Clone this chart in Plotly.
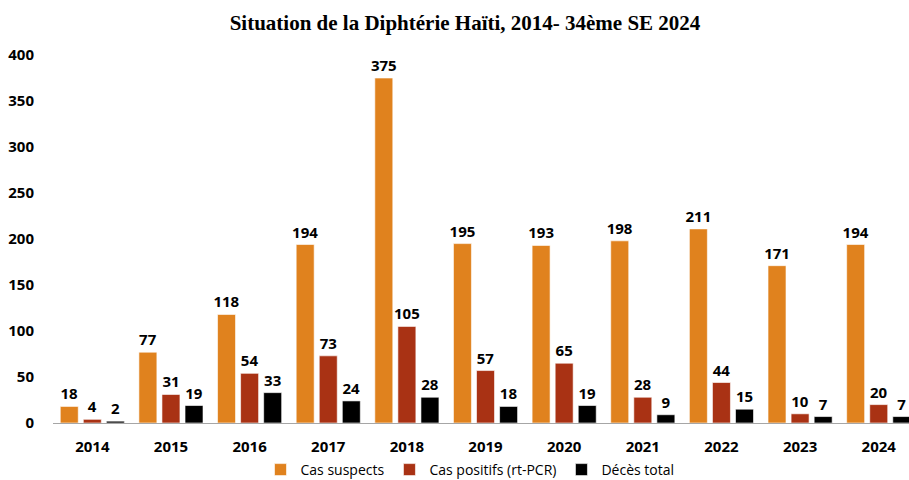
import plotly.graph_objects as go

years = ["2014", "2015", "2016", "2017", "2018", "2019", "2020", "2021", "2022", "2023", "2024"]
cas_suspects = [18, 77, 118, 194, 375, 195, 193, 198, 211, 171, 194]
cas_positifs = [4, 31, 54, 73, 105, 57, 65, 28, 44, 10, 20]
deces_total = [2, 19, 33, 24, 28, 18, 19, 9, 15, 7, 7]

series = [
    ("Cas suspects", cas_suspects, "#E0821E"),
    ("Cas positifs (rt-PCR)", cas_positifs, "#A93214"),
    ("Décès total", deces_total, "#000000"),
]

fig = go.Figure()
for name, vals, color in series:
    fig.add_trace(go.Bar(
        x=years, y=vals, name=name,
        marker=dict(color=color, line=dict(color="rgba(255,255,255,0.6)", width=1)),
        text=vals, textposition="outside", cliponaxis=False, constraintext="none",
        textfont=dict(family="Open Sans", size=15, color="#000000"),
        texttemplate="<b>%{text}</b>",
    ))

W, H = 909, 480
L, R, T, B = 53, 0, 55, 57
fig.update_layout(
    width=W, height=H,
    margin=dict(l=L, r=R, t=T, b=B, autoexpand=False),
    paper_bgcolor="white", plot_bgcolor="white",
    barmode="group", bargap=0.12, bargroupgap=0.22,
    uniformtext=dict(mode=False),
    title=dict(
        text="<b>Situation de la Diphtérie Haïti, 2014- 34ème SE 2024</b>",
        font=dict(family="Liberation Serif", size=21, color="#000000"),
        x=465 / W, xanchor="center", y=1 - 23 / H, yanchor="middle",
    ),
    legend=dict(
        orientation="h", xref="container", x=470 / W, xanchor="center",
        yref="container", y=1 - 470 / H, yanchor="middle",
        font=dict(family="Open Sans", size=14, color="#000000"),
        itemwidth=30, traceorder="normal", tracegroupgap=0,
    ),
    font=dict(family="Open Sans", color="#000000"),
)
# the last year group runs up to the right edge of the page
fig.update_xaxes(
    range=[-0.5, 10.385],
    showline=True, linecolor="#A6A6A6", linewidth=1,
    ticks="", ticklabelstandoff=10,
    tickfont=dict(family="Open Sans", size=15, color="#000000"),
    tickprefix="<b>", ticksuffix="</b>",
)
fig.update_yaxes(
    range=[0, 400], dtick=50, showgrid=False, zeroline=False, showline=False,
    ticks="", ticklabelstandoff=18,
    tickfont=dict(family="Open Sans", size=15, color="#000000"),
    tickprefix="<b>", ticksuffix="</b>",
)

fig.write_html("out.html")
